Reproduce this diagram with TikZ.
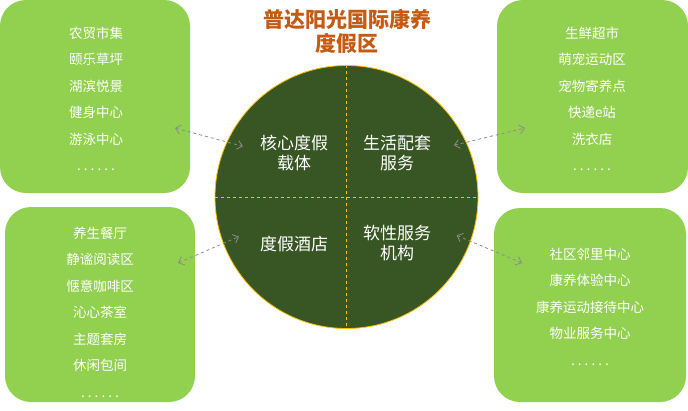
\documentclass[tikz,border=0pt]{standalone}
\usepackage{fontspec}
\setmainfont{Noto Sans CJK SC}
\usepackage{tikz}
\usetikzlibrary{arrows.meta}

\definecolor{boxgreen}{HTML}{92D050}
\definecolor{hubgreen}{HTML}{375623}
\definecolor{hubline}{HTML}{FFC000}
\definecolor{titleorange}{HTML}{C55A11}
\definecolor{linkgray}{HTML}{8C8C8C}

\tikzset{
  box/.style={rounded corners=26pt, fill=boxgreen, draw=none},
  listtext/.style={align=center, text=white, font=\fontsize{13.5}{26.5}\selectfont},
  quadtext/.style={align=center, text=white, font=\fontsize{17}{20.5}\selectfont},
  link/.style={<->, dashed, linkgray, thick, >={Straight Barb[length=5pt, width=9pt]}}
}

\begin{document}
\begin{tikzpicture}[x=1pt, y=-1pt]
  \useasboundingbox (0,0) rectangle (688,410);
  % title
  \node[align=center, text=titleorange, font=\bfseries\fontsize{21}{24}\selectfont] (title) at (347,31.5) {普达阳光国际康养\\度假区};
  % four boxes
  \node[box, minimum width=190pt, minimum height=193pt] (boxTL) at (95,96.5) {};
  \node[box, minimum width=191pt, minimum height=193pt] (boxTR) at (592.5,96.5) {};
  \node[box, minimum width=190pt, minimum height=195pt] (boxBL) at (100,304.5) {};
  \node[box, minimum width=192pt, minimum height=194pt] (boxBR) at (590,305) {};
  \node[listtext] (listTL) at (96,99) {农贸市集\\颐乐草坪\\湖滨悦景\\健身中心\\游泳中心\\.\ .\ .\ .\ .\ .};
  \node[listtext] (listTR) at (592,99) {生鲜超市\\萌宠运动区\\宠物寄养点\\快递e站\\洗衣店\\.\ .\ .\ .\ .\ .};
  \node[listtext] (listBL) at (100,312) {养生餐厅\\静谧阅读区\\惬意咖啡区\\沁心茶室\\主题套房\\休闲包间\\.\ .\ .\ .\ .\ .};
  \node[listtext] (listBR) at (590,306.5) {社区邻里中心\\康养体验中心\\康养运动接待中心\\物业服务中心\\.\ .\ .\ .\ .\ .};
  % central circle
  \node[circle, minimum size=263pt, inner sep=0pt, fill=hubgreen, draw=hubline, line width=0.8pt] (hub) at (346.5,197) {};
  \draw[hubline, dashed, line width=0.8pt] (hub.north) -- (hub.south);
  \draw[hubline, dashed, line width=0.8pt] (hub.west) -- (hub.east);
  \node[quadtext] (core) at (294,153) {核心度假\\载体};
  \node[quadtext] (life) at (397,153) {生活配套\\服务};
  \node[quadtext] (hotel) at (294,244) {度假酒店};
  \node[quadtext] (soft) at (397,243) {软性服务\\机构};
  % connectors
  \coordinate (endTL) at (175,128);
  \coordinate (endTR) at (525,128);
  \coordinate (endBL) at (178,263);
  \coordinate (endBR) at (522,263);
  \draw[link, shorten >=14pt] (endTL) -- ([yshift=3pt]core.west);
  \draw[link, shorten <=20pt] ([yshift=3pt]life.east) -- (endTR);
  \draw[link, shorten >=19pt] (endBL) -- ([yshift=15pt]hotel.west);
  \draw[link, shorten <=24pt] ([yshift=17pt]soft.east) -- (endBR);
\end{tikzpicture}
\end{document}
